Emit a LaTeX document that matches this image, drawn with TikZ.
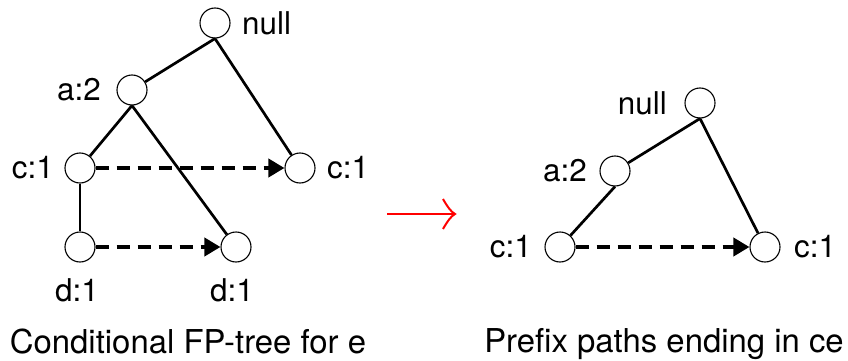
\documentclass[tikz,border=0pt]{standalone}
\usepackage{fontspec}
\setmainfont{TeX Gyre Heros}
\usetikzlibrary{arrows.meta}

\begin{document}
\begin{tikzpicture}[x=1bp,y=1bp,inner sep=0pt,
  fpnode/.style={circle,draw,line width=1.1bp,fill=white,minimum size=30bp},
  lab/.style={font=\fontsize{31.5}{36}\selectfont},
  capt/.style={anchor=base,font=\fontsize{33}{38}\selectfont},
  edge/.style={line width=2.7bp},
  nodelink/.style={line width=3.8bp,dash pattern=on 13bp off 8bp,-{Triangle[length=16bp,width=18bp]}},
  redarrow/.style={red,line width=2bp}]
\useasboundingbox (0,0) rectangle (848,360);
% conditional FP-tree
\node[fpnode] (nullL) at (215,337) {};
\node[fpnode] (aL) at (132,270) {};
\node[fpnode] (cL) at (80,192) {};
\node[fpnode] (cR) at (300,192) {};
\node[fpnode] (dL) at (80,113) {};
\node[fpnode] (dR) at (236,113) {};
\draw[edge] (nullL.south) -- (aL);
\draw[edge] (nullL.south) -- (cR);
\draw[edge] (aL.south) -- (cL);
\draw[edge] (aL.south) -- (dR);
\draw[edge,line width=2.2bp] (cL.south) -- (dL.north);
\draw[nodelink] (cL) -- (cR);
\draw[nodelink] (dL) -- (dR);
\node[lab,anchor=west] (nullLlab) at (242,337) {null};
\node[lab,anchor=east] (aLlab) at (101,270) {a:2};
\node[lab,anchor=east] (cLlab) at (54,192) {c:1};
\node[lab,anchor=west] (cRlab) at (327,192) {c:1};
\node[lab] (dLlab) at (77,70) {d:1};
\node[lab] (dRlab) at (232,70) {d:1};
\node[capt] (captL) at (188,7) {Conditional FP-tree for e};
% red arrow between the two trees, barbs drawn by hand
\coordinate (arrowS) at (387,146);
\coordinate (arrowE) at (455,146);
\coordinate (barbT) at (443,161);
\coordinate (barbB) at (443,131);
\draw[redarrow] (arrowS) -- (arrowE);
\draw[redarrow] (barbT) .. controls (447,154) and (451,148) .. (arrowE)
  .. controls (451,144) and (447,138) .. (barbB);
% prefix paths ending in ce
\node[fpnode] (nullR) at (700,257) {};
\node[fpnode] (aR) at (615,189) {};
\node[fpnode] (cRL) at (560,113) {};
\node[fpnode] (cRR) at (765,113) {};
\draw[edge] (nullR.south) -- (aR);
\draw[edge] (aR.south) -- (cRL);
\draw[edge] (nullR.south) -- (cRR);
\draw[nodelink] (cRL) -- (cRR);
\node[lab,anchor=east] (nullRlab) at (667,257) {null};
\node[lab,anchor=east] (aRlab) at (587,189) {a:2};
\node[lab,anchor=east] (cRLlab) at (532,113) {c:1};
\node[lab,anchor=west] (cRRlab) at (794,113) {c:1};
\node[capt] (captR) at (664,8) {Prefix paths ending in ce};
\end{tikzpicture}
\end{document}
